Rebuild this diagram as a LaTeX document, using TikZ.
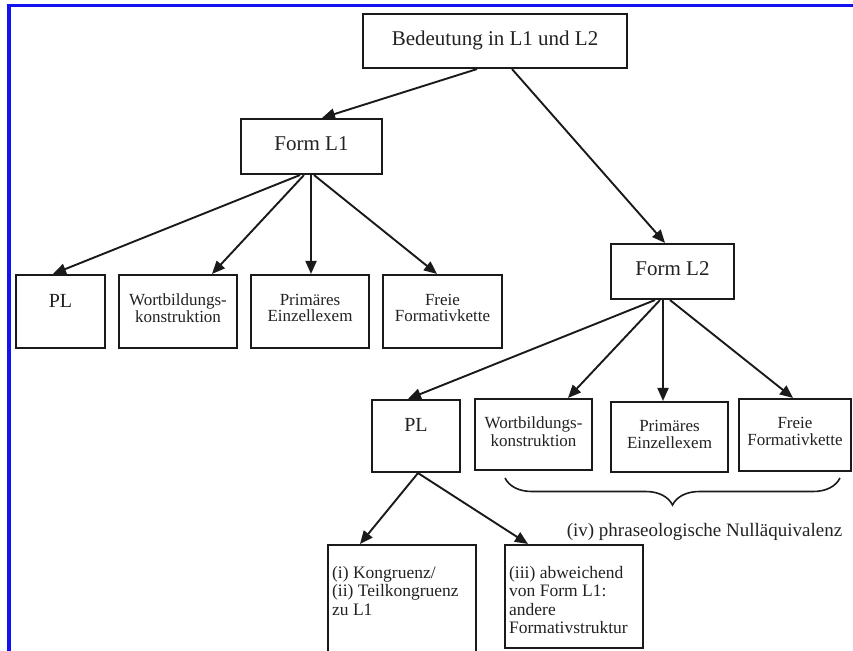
\documentclass[tikz,border=0pt]{standalone}
\usepackage{fontspec}
\setmainfont{Liberation Serif}
\usetikzlibrary{arrows.meta,decorations.pathreplacing}
\definecolor{ink}{HTML}{1A1A1A}
\definecolor{txt}{HTML}{222222}
\definecolor{frameblue}{HTML}{1212F2}
\begin{document}
\begin{tikzpicture}[x=1pt,y=-1pt,
  box/.style={draw=ink, line width=2.1pt, inner sep=0pt, text=txt},
  bigbox/.style={box, font=\fontsize{21}{24}\selectfont, text depth=6pt},
  rowa/.style={box, minimum height=73pt},
  rowb/.style={box},
  labA/.style={anchor=north, yshift=-20pt, inner sep=0pt, align=center, text=txt, font=\fontsize{17}{16.5}\selectfont},
  labB/.style={anchor=north, yshift=-19pt, inner sep=0pt, align=center, text=txt, font=\fontsize{17}{17.5}\selectfont},
  labPL/.style={font=\fontsize{20}{22}\selectfont},
  labC/.style={anchor=north west, xshift=5pt, yshift=-22pt, inner sep=0pt, align=left, text=txt, font=\fontsize{17.5}{18.5}\selectfont},
  arr/.style={draw=ink, line width=1.9pt, -{Triangle[length=13pt,width=11pt]}},
  bracestyle/.style={draw=ink, line width=1.6pt, decorate, decoration={brace, amplitude=27pt}}
]
\clip (0,0) rectangle (853,650);
\fill[white] (0,0) rectangle (853,650);
% blue frame
\draw[frameblue, line width=3.5pt] (9,660) -- (9,5.5) -- (870,5.5);

% top levels
\node[bigbox, minimum width=264pt, minimum height=54pt] (top) at (495,41) {Bedeutung in L1 und L2};
\node[bigbox, minimum width=141pt, minimum height=55pt] (fl1) at (311.5,146.5) {Form L1};
\node[bigbox, minimum width=123pt, minimum height=55pt] (fl2) at (672.5,271.5) {Form L2};

% row 1 (Form L1)
\node[rowa, minimum width=89pt, label={[labA,labPL]north:PL}] (pl1) at (60.5,311.5) {};
\node[rowa, minimum width=118pt, label={[labA]north:Wortbildungs-\\konstruktion}] (wb1) at (178,311.5) {};
\node[rowa, minimum width=118pt, label={[labA]north:Primäres\\Einzellexem}] (pe1) at (310,311.5) {};
\node[rowa, minimum width=119pt, label={[labA]north:Freie\\Formativkette}] (ff1) at (442.5,311.5) {};

% row 2 (Form L2)
\node[rowb, minimum width=88pt, minimum height=72pt, label={[labB,labPL]north:PL}] (pl2) at (416,436) {};
\node[rowb, minimum width=117pt, minimum height=71pt, label={[labB]north:Wortbildungs-\\konstruktion}] (wb2) at (533.5,434.5) {};
\node[rowb, minimum width=117pt, minimum height=70pt, label={[labB]north:Primäres\\Einzellexem}] (pe2) at (669.5,437) {};
\node[rowb, minimum width=112pt, minimum height=72pt, label={[labB]north:Freie\\Formativkette}] (ff2) at (795,435) {};

% bottom boxes
\node[box, minimum width=148pt, minimum height=120pt, label={[labC]north west:(i) Kongruenz/\\(ii) Teilkongruenz\\zu L1}] (kon) at (402,605) {};
\node[box, minimum width=138pt, minimum height=103pt, label={[labC]north west:(iii) abweichend\\von Form L1:\\andere\\Formativstruktur}] (abw) at (574,596.5) {};

% brace and its label
\draw[bracestyle] (840,478) -- (505,478);
\node[inner sep=0pt, text=txt, font=\fontsize{19}{22}\selectfont] (nullaeq) at (704.5,532) {(iv) phraseologische Nulläquivalenz};

% connectors
\draw[arr] ([xshift=-18pt]top.south) -- ([xshift=10.5pt]fl1.north);
\draw[arr] ([xshift=17pt]top.south) -- ([xshift=-7.5pt]fl2.north);

\draw[arr] ([xshift=-11.5pt]fl1.south) -- ([xshift=-7.5pt]pl1.north);
\draw[arr] ([xshift=-7.5pt]fl1.south) -- ([xshift=34pt]wb1.north);
\draw[arr] ([xshift=-0.5pt]fl1.south) -- ([xshift=1pt]pe1.north);
\draw[arr] ([xshift=2.5pt]fl1.south) -- ([xshift=-5.5pt]ff1.north);

\draw[arr] ([xshift=-17.5pt]fl2.south) -- ([xshift=-8pt]pl2.north);
\draw[arr] ([xshift=-12.5pt]fl2.south) -- ([xshift=34.5pt]wb2.north);
\draw[arr] ([xshift=-9.5pt]fl2.south) -- ([xshift=-6.5pt]pe2.north);
\draw[arr] ([xshift=-2.5pt]fl2.south) -- ([xshift=-2pt]ff2.north);

\draw[arr] ([xshift=2pt]pl2.south) -- ([xshift=-42pt]kon.north);
\draw[arr] ([xshift=2pt]pl2.south) -- ([xshift=-46pt]abw.north);
\end{tikzpicture}
\end{document}
